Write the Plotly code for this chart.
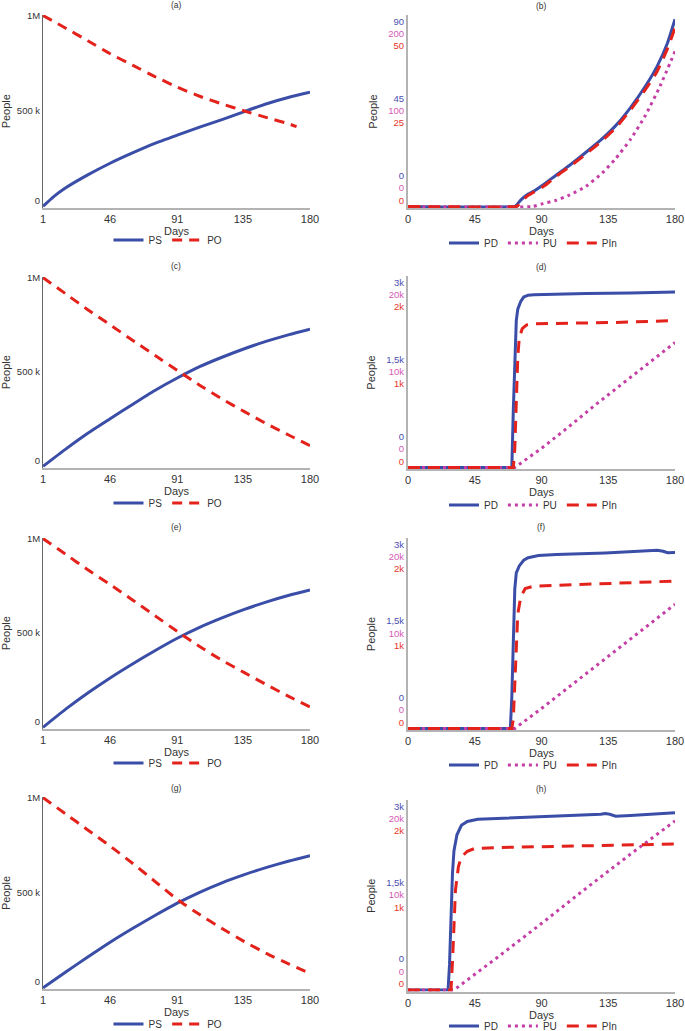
import plotly.graph_objects as go

# ---------------- data ----------------
LEFT_DAYS = [1, 16, 31, 46, 61, 76, 91, 106, 121, 136, 151, 166, 180]
LEFT_XTICKS = [1, 46, 91, 135, 180]
RIGHT_XTICKS = [0, 45, 90, 135, 180]

PS_A_DAYS = [1, 8, 16, 31, 46, 61, 76, 91, 106, 121, 136, 151, 166, 180]
PS_A = [0, 50000, 96000, 165000, 226000, 280000, 330000, 373000, 415000, 455000, 497000, 538000, 572000, 598000]
PO_A_DAYS = [1, 16, 31, 46, 61, 76, 91, 106, 121, 136, 151, 166, 171]
PO_A = [1000000, 935000, 868000, 800000, 740000, 680000, 625000, 577000, 537000, 500000, 465000, 432000, 418000]

PS_C = [0, 90000, 175000, 252000, 328000, 402000, 468000, 528000, 578000, 623000, 663000, 698000, 727000]
PO_C = [1000000, 915000, 830000, 750000, 668000, 588000, 508000, 430000, 357000, 290000, 225000, 165000, 110000]

PS_E = [0, 95000, 182000, 262000, 336000, 406000, 472000, 530000, 580000, 625000, 665000, 700000, 728000]
PO_E = [1000000, 918000, 835000, 757000, 675000, 592000, 508000, 428000, 355000, 290000, 225000, 163000, 108000]

PS_G = [0, 82000, 162000, 240000, 312000, 380000, 445000, 502000, 552000, 595000, 633000, 667000, 695000]
PO_G = [1000000, 915000, 830000, 745000, 655000, 560000, 465000, 385000, 312000, 243000, 180000, 125000, 76000]

# panel (b)
PD_B_DAYS = [0, 72, 73, 76, 80, 85, 91, 100, 109, 120, 131, 140, 150, 160, 168, 175, 180]
PD_B = [0, 0, 0.5, 3, 5.4, 7.3, 10.1, 14.8, 19.4, 25.5, 31.9, 38, 46.5, 56.5, 66, 77, 88]
PU_B_DAYS = [0, 84, 91, 100, 109, 120, 131, 140, 150, 160, 170, 180]
PU_B = [0, 0, 3, 6.5, 12, 21, 35, 50, 70, 95, 126, 162]
PIN_B_DAYS = [0, 73, 74, 77, 81, 86, 92, 100, 109, 120, 131, 140, 150, 160, 168, 175, 180]
PIN_B = [0, 0, 0.2, 1.5, 2.9, 4, 5.4, 7.9, 10.4, 13.7, 17.2, 20.5, 25.2, 30.5, 35.3, 41.3, 46.6]

# panel (d)
PD_D_DAYS = [0, 70, 71, 72, 73, 74, 76, 78, 81, 85, 90, 120, 150, 180]
PD_D = [0, 0, 900, 1700, 2300, 2480, 2600, 2670, 2700, 2708, 2712, 2725, 2735, 2748]
PU_D_DAYS = [0, 72, 90, 108, 126, 144, 162, 180]
PU_D = [0, 0, 2000, 4200, 6500, 8700, 10900, 13050]
PIN_D_DAYS = [0, 71, 72, 73, 74, 75, 77, 80, 85, 100, 140, 180]
PIN_D = [0, 0, 200, 700, 1150, 1350, 1450, 1490, 1500, 1505, 1515, 1535]

# panel (f)
PD_F_DAYS = [0, 69, 70, 71, 72, 73, 75, 78, 81, 88, 100, 133, 160, 168, 172, 175, 180]
PD_F = [0, 0, 500, 1500, 2200, 2450, 2560, 2650, 2690, 2725, 2740, 2765, 2800, 2808, 2790, 2768, 2772]
PU_F_DAYS = [0, 72, 90, 108, 126, 144, 162, 180]
PU_F = [0, 0, 2100, 4300, 6500, 8700, 10850, 13040]
PIN_F_DAYS = [0, 70, 71, 72, 73, 74, 76, 79, 85, 100, 140, 180]
PIN_F = [0, 0, 100, 500, 900, 1200, 1380, 1470, 1495, 1505, 1525, 1548]

# panel (h)
PD_H_DAYS = [0, 27, 28, 29, 30, 31, 33, 36, 40, 47, 88, 124, 130, 133, 136, 140, 150, 180]
PD_H = [0, 0, 400, 1200, 1850, 2200, 2450, 2600, 2660, 2695, 2733, 2760, 2775, 2785, 2775, 2745, 2755, 2800]
PU_H_DAYS = [0, 31, 60, 90, 120, 150, 180]
PU_H = [0, 0, 3400, 7000, 10700, 14300, 17800]
PIN_H_DAYS = [0, 29, 30, 31, 32, 34, 36, 40, 45, 60, 100, 140, 180]
PIN_H = [0, 0, 300, 700, 1050, 1300, 1400, 1460, 1490, 1500, 1510, 1522, 1536]

LEFT_YTICKS = [0, 500000, 1000000]
LEFT_YTICKTEXT = ["0", "500 k", "1M"]

PD_TICKS_B, PU_TICKS_B, PIN_TICKS_B = ["0", "45", "90"], ["0", "100", "200"], ["0", "25", "50"]
PD_TICKS_K, PU_TICKS_K, PIN_TICKS_K = ["0", "1,5k", "3k"], ["0", "10k", "20k"], ["0", "1k", "2k"]
PD_MAX_B, PU_MAX_B, PIN_MAX_B = 90, 200, 50
PD_MAX_K, PU_MAX_K, PIN_MAX_K = 3000, 20000, 2000

# ---------------- styles / layout ----------------
W, H = 685, 1031
FONT = "Liberation Sans, Arial, sans-serif"
BLUE = "#3a4ea8"
RED = "#e3221c"
PINK = "#c43ea6"
BLUE_T = "#4b4fb3"
PINK_T = "#d55ab5"
RED_T = "#e8352b"
TXT = "#333333"

LEFT_X = (43, 310)
RIGHT_X = (408, 675)
LEFT_ROWS = [(15, 207.5), (277, 467.5), (538, 728.5), (797, 989)]
RIGHT_ROWS = [(15, 208), (276, 469), (538, 730), (800, 991.5)]
LEFT_LEG_Y = [240, 503, 763, 1024]
RIGHT_LEG_Y = [243, 505, 765, 1026]
LEFT_TITLE_Y = [5, 266, 527, 788]
RIGHT_TITLE_Y = [6, 267, 527, 789]


def fx(p):
    return p / W


def fy(p):
    return 1 - p / H


fig = go.Figure()
layout = dict(
    width=W, height=H, margin=dict(l=0, r=0, t=0, b=0, autoexpand=False),
    paper_bgcolor="white", plot_bgcolor="white",
    font=dict(family=FONT, color=TXT, size=10),
    annotations=[],
)


def xaxis_def(dom, ticks, rng, anchor):
    return dict(
        domain=[fx(dom[0]), fx(dom[1])], range=rng, tickvals=ticks,
        ticktext=[str(t) for t in ticks], showgrid=False, zeroline=False,
        showline=True, linecolor="#b3b3b3", linewidth=2, ticks="",
        tickfont=dict(size=11, color=TXT, family=FONT), anchor=anchor,
        title=dict(text="Days", font=dict(size=11, color=TXT, family=FONT), standoff=0),
        fixedrange=True, automargin=False, ticklabeloverflow="allow",
    )


def leg_def(xc, yp):
    return dict(
        orientation="h", x=fx(xc), y=fy(yp), xanchor="center", yanchor="middle",
        font=dict(size=10, color=TXT, family=FONT), bgcolor="rgba(0,0,0,0)",
        itemwidth=30, tracegroupgap=0,
    )


left_sets = [
    ("(a)", PS_A_DAYS, PS_A, PO_A_DAYS, PO_A),
    ("(c)", LEFT_DAYS, PS_C, LEFT_DAYS, PO_C),
    ("(e)", LEFT_DAYS, PS_E, LEFT_DAYS, PO_E),
    ("(g)", LEFT_DAYS, PS_G, LEFT_DAYS, PO_G),
]

for i, (ttl, ps_days, ps, po_days, po) in enumerate(left_sets):
    n = i + 1
    xs = "" if n == 1 else str(n)
    leg = "legend" if n == 1 else "legend%d" % n
    top, bot = LEFT_ROWS[i]
    fig.add_trace(go.Scatter(x=ps_days, y=ps, mode="lines", name="PS",
                             line=dict(color=BLUE, width=3, shape="spline", smoothing=0.5),
                             xaxis="x" + xs, yaxis="y" + xs, legend=leg, hoverinfo="skip"))
    fig.add_trace(go.Scatter(x=po_days, y=po, mode="lines", name="PO",
                             line=dict(color=RED, width=3, dash="10px,7px", shape="spline", smoothing=0.5),
                             xaxis="x" + xs, yaxis="y" + xs, legend=leg, hoverinfo="skip"))
    layout["xaxis" + xs] = xaxis_def(LEFT_X, LEFT_XTICKS, [1, 180], "y" + xs)
    ttext = list(LEFT_YTICKTEXT)
    ttext[0] = ttext[0] + "<br>\u00a0"
    layout["yaxis" + xs] = dict(
        domain=[fy(bot), fy(top)], range=[-6000, 1003000], tickvals=LEFT_YTICKS,
        ticktext=ttext, showgrid=False, zeroline=False, showline=True,
        linecolor="#666666", linewidth=1, ticks="", anchor="x" + xs,
        tickfont=dict(size=9.5, color=TXT, family=FONT),
        title=dict(text="People", font=dict(size=11, color=TXT, family=FONT), standoff=4),
        fixedrange=True, automargin=False, ticklabeloverflow="allow",
    )
    layout[leg] = leg_def(168, LEFT_LEG_Y[i])
    layout["annotations"].append(dict(
        text=ttl, x=fx(176), y=fy(LEFT_TITLE_Y[i]), xref="paper", yref="paper",
        showarrow=False, xanchor="center", yanchor="middle",
        font=dict(size=8.5, color=TXT, family=FONT)))

right_sets = [
    ("(b)", PD_B_DAYS, PD_B, PU_B_DAYS, PU_B, PIN_B_DAYS, PIN_B,
     (PD_MAX_B, PU_MAX_B, PIN_MAX_B), (PD_TICKS_B, PU_TICKS_B, PIN_TICKS_B), "spline"),
    ("(d)", PD_D_DAYS, PD_D, PU_D_DAYS, PU_D, PIN_D_DAYS, PIN_D,
     (PD_MAX_K, PU_MAX_K, PIN_MAX_K), (PD_TICKS_K, PU_TICKS_K, PIN_TICKS_K), "linear"),
    ("(f)", PD_F_DAYS, PD_F, PU_F_DAYS, PU_F, PIN_F_DAYS, PIN_F,
     (PD_MAX_K, PU_MAX_K, PIN_MAX_K), (PD_TICKS_K, PU_TICKS_K, PIN_TICKS_K), "linear"),
    ("(h)", PD_H_DAYS, PD_H, PU_H_DAYS, PU_H, PIN_H_DAYS, PIN_H,
     (PD_MAX_K, PU_MAX_K, PIN_MAX_K), (PD_TICKS_K, PU_TICKS_K, PIN_TICKS_K), "linear"),
]


def span(v, c):
    return "<span style='color:%s'>%s</span>" % (c, v)


for i, (ttl, pdd, pd, pud, pu, pind, pin, maxes, tick_sets, shp) in enumerate(right_sets):
    n = 5 + i
    xa = "x%d" % n
    ya_pd, ya_pu, ya_pin = "y%d" % n, "y%d" % (9 + i), "y%d" % (13 + i)
    leg = "legend%d" % n
    top, bot = RIGHT_ROWS[i]
    sm = dict(shape="spline", smoothing=0.5) if shp == "spline" else dict(shape="linear")
    fig.add_trace(go.Scatter(x=pdd, y=pd, mode="lines", name="PD",
                             line=dict(color=BLUE, width=3, **sm),
                             xaxis=xa, yaxis=ya_pd, legend=leg, hoverinfo="skip"))
    fig.add_trace(go.Scatter(x=pud, y=pu, mode="lines", name="PU",
                             line=dict(color=PINK, width=3, dash="3px,4px", **sm),
                             xaxis=xa, yaxis=ya_pu, legend=leg, hoverinfo="skip"))
    fig.add_trace(go.Scatter(x=pind, y=pin, mode="lines", name="PIn",
                             line=dict(color=RED, width=3, dash="12px,8px", **sm),
                             xaxis=xa, yaxis=ya_pin, legend=leg, hoverinfo="skip"))
    layout["xaxis%d" % n] = xaxis_def(RIGHT_X, RIGHT_XTICKS, [0, 180], ya_pd)
    pdt, put, pint = tick_sets
    cols = [BLUE_T, PINK_T, RED_T]
    ticktext = []
    for k in range(3):
        lines = [span(pdt[k], cols[0]), span(put[k], cols[1]), span(pint[k], cols[2])]
        if k == 0:
            lines = lines + ["\u00a0"] * 3
        elif k == 2:
            lines = ["\u00a0"] * 3 + lines
        ticktext.append("<br>".join(lines))
    dom = [fy(bot), fy(top)]
    pdmax, pumax, pinmax = maxes
    layout["yaxis%d" % n] = dict(
        domain=dom, range=[-0.008 * pdmax, pdmax], tickvals=[0, pdmax / 2, pdmax],
        ticktext=ticktext, showgrid=False, zeroline=False, showline=True,
        linecolor="#b3b3b3", linewidth=2, ticks="", anchor=xa,
        tickfont=dict(size=9.5, color=TXT, family=FONT),
        title=dict(text="People", font=dict(size=11, color=TXT, family=FONT), standoff=8),
        fixedrange=True, automargin=False, ticklabeloverflow="allow",
    )
    layout["yaxis%d" % (9 + i)] = dict(domain=dom, range=[-0.008 * pumax, pumax],
                                       overlaying=ya_pd, anchor=xa, visible=False,
                                       fixedrange=True)
    layout["yaxis%d" % (13 + i)] = dict(domain=dom, range=[-0.008 * pinmax, pinmax],
                                        overlaying=ya_pd, anchor=xa, visible=False,
                                        fixedrange=True)
    layout[leg] = leg_def(533, RIGHT_LEG_Y[i])
    layout["annotations"].append(dict(
        text=ttl, x=fx(541), y=fy(RIGHT_TITLE_Y[i]), xref="paper", yref="paper",
        showarrow=False, xanchor="center", yanchor="middle",
        font=dict(size=8.5, color=TXT, family=FONT)))

fig.update_layout(**layout)
fig.write_html("out.html", config=dict(displayModeBar=False),
               post_script="document.body.style.margin='0px';document.body.style.overflow='hidden';")
